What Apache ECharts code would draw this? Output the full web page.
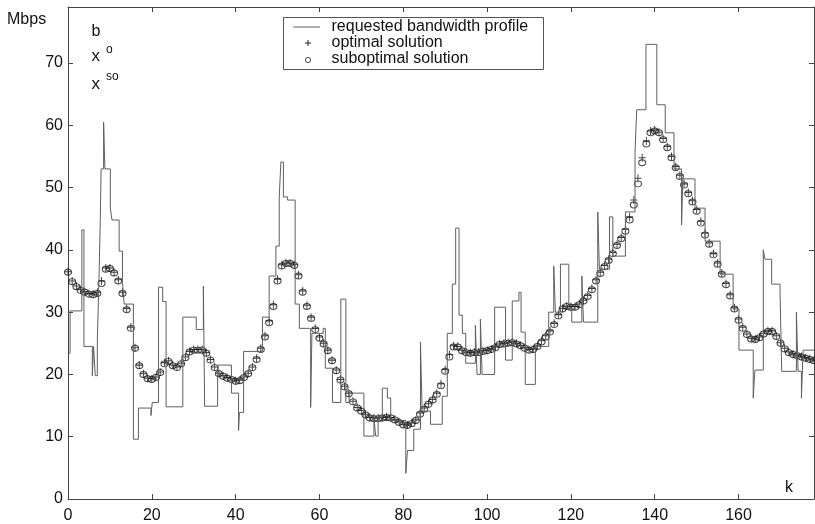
<!DOCTYPE html>
<html>
<head>
<meta charset="utf-8">
<script src="https://cdn.jsdelivr.net/npm/echarts@6/dist/echarts.min.js"></script>
<style>
  html, body { margin: 0; padding: 0; background: #fff; }
  #chart { width: 815px; height: 524px; }
</style>
</head>
<body>
<div id="chart"></div>
<script>
// ---- data ----
// requested bandwidth profile b: step start times (k) and the value held from that time
var bK = [0, 0.5, 3.3, 3.8, 5.8, 6.1, 6.5, 7.0, 7.4, 7.7,
  7.9, 8.5, 8.8, 10.1, 10.5, 12.2, 13.0, 13.4, 15.6, 16.8,
  19.8, 20.1, 21.6, 22.6, 23.4, 27.4, 30.6, 32.3, 32.6, 35.7,
  39.0, 40.7, 40.9, 41.9, 46.4, 48.0, 49.6, 50.4, 50.8, 51.4,
  52.4, 54.2, 55.2, 57.9, 58.2, 60.9, 61.4, 63.1, 65.1, 66.3,
  67.1, 70.6, 73.0, 73.4, 74.0, 75.0, 76.2, 77.0, 80.6, 81.0,
  82.5, 84.1, 84.5, 86.5, 89.3, 90.5, 91.7, 92.5, 93.3, 94.1,
  94.9, 97.2, 97.6, 98.4, 98.8, 101.8, 104.4, 106.0, 107.6, 108.1,
  109.1, 111.5, 114.7, 115.9, 116.3, 117.5, 119.5, 120.2, 122.6, 123.0,
  126.4, 126.8, 129.2, 130.0, 133.0, 135.3, 135.7, 137.9, 140.5, 142.5,
  144.6, 146.4, 146.7, 149.6, 152.0, 155.6, 158.7, 160.1, 163.5,
  163.9, 165.9, 166.3, 167.9, 169.9, 170.3, 173.8, 174.2, 175.0, 175.4,
  178.6];
var bVal = [23.4, 30.2, 43.2, 24.5, 19.8, 24.5, 19.8, 25.5, 35.5, 44.7,
  53.0, 60.5, 53.0, 46.7, 44.8, 39.8, 34.8, 31.3, 9.6, 14.6,
  13.4, 15.5, 34.0, 31.7, 14.8, 29.2, 27.2, 34.2, 14.9, 21.5,
  17.0, 11.0, 13.9, 23.7, 29.2, 35.8, 40.6, 48.5, 54.1, 48.5,
  48.0, 31.3, 27.4, 14.7, 26.6, 27.4, 21.0, 15.5, 32.1, 15.5,
  17.0, 10.1, 13.1, 10.1, 13.1, 17.8, 16.2, 12.6, 4.1, 7.8,
  11.2, 25.2, 14.1, 12.0, 16.5, 26.6, 34.5, 43.5, 29.5, 26.6,
  21.8, 27.9, 20.0, 28.9, 20.0, 30.8, 22.3, 31.8, 33.2, 26.8,
  18.4, 24.5, 30.0, 37.4, 30.0, 37.7, 30.3, 28.4, 35.8, 28.4,
  46.1, 36.9, 45.3, 39.0, 46.1, 55.7, 62.5, 73.0, 63.3, 58.8,
  53.0, 44.0, 51.4, 46.7, 41.4, 36.1, 30.5, 23.9, 16.2,
  20.7, 40.0, 38.5, 34.5, 33.2, 20.5, 30.0, 20.5, 16.2, 23.9,
  23.9];

// optimal solution x^o, one value per k = 0..178
var optimal = [36.5, 35.0, 34.2, 33.6, 33.3, 33.0, 32.9, 33.2, 35.0, 37.1,
  37.1, 36.4, 35.2, 33.2, 30.6, 27.6, 24.3, 21.5, 20.1, 19.4,
  19.3, 19.6, 20.4, 21.9, 22.2, 21.5, 21.2, 21.8, 22.8, 23.7,
  24.0, 24.0, 24.0, 23.5, 22.4, 21.2, 20.2, 19.8, 19.5, 19.3,
  19.0, 19.1, 19.6, 20.2, 21.2, 22.6, 24.2, 26.2, 28.6, 31.2,
  35.3, 37.6, 37.9, 37.9, 37.6, 36.0, 33.4, 31.1, 29.2, 27.4,
  26.0, 25.0, 23.9, 22.3, 20.7, 19.2, 18.1, 17.0, 15.7, 14.7,
  14.2, 13.6, 13.1, 13.0, 13.0, 13.1, 13.2, 13.1, 12.8, 12.4,
  12.0, 11.9, 12.2, 12.7, 13.8, 14.6, 15.3, 16.0, 17.0, 18.5,
  20.8, 23.2, 24.6, 24.5, 23.9, 23.6, 23.5, 23.6, 23.6, 23.8,
  23.9, 24.1, 24.4, 24.9, 25.0, 25.1, 25.2, 25.0, 24.7, 24.3,
  24.0, 24.1, 24.7, 25.4, 26.2, 27.0, 28.2, 29.6, 30.6, 31.0,
  30.9, 30.9, 31.3, 31.9, 32.7, 33.8, 35.2, 36.4, 37.5, 38.5,
  39.6, 40.9, 42.0, 43.3, 45.3, 48.0, 51.5, 54.8, 57.5, 59.1,
  59.3, 58.9, 57.9, 56.6, 55.0, 53.4, 52.0, 50.6, 49.2, 47.9,
  46.5, 44.6, 42.7, 41.1, 39.4, 37.9, 36.3, 34.6, 32.8, 30.7,
  28.9, 27.6, 26.5, 25.8, 25.7, 26.0, 26.6, 27.0, 27.0, 26.2,
  25.1, 24.2, 23.6, 23.3, 23.1, 22.9, 22.7, 22.5, 22.3];

// suboptimal solution x^so, one value per k = 0..178
var suboptimal = [36.4, 34.9, 34.1, 33.5, 33.2, 32.9, 32.8, 33.0, 34.6, 36.9,
  37.0, 36.3, 35.0, 33.0, 30.4, 27.4, 24.2, 21.4, 20.0, 19.3,
  19.2, 19.5, 20.3, 21.7, 22.1, 21.4, 21.1, 21.7, 22.7, 23.6,
  23.9, 23.9, 23.9, 23.4, 22.3, 21.1, 20.1, 19.7, 19.4, 19.2,
  18.9, 19.0, 19.5, 20.1, 21.1, 22.4, 24.0, 26.0, 28.3, 30.9,
  35.0, 37.4, 37.8, 37.8, 37.5, 35.8, 33.2, 30.9, 29.0, 27.2,
  25.8, 24.9, 23.8, 22.2, 20.6, 19.1, 18.0, 16.9, 15.6, 14.6,
  14.1, 13.5, 13.0, 12.9, 12.9, 13.0, 13.1, 13.0, 12.7, 12.3,
  11.9, 11.8, 12.1, 12.6, 13.6, 14.4, 15.2, 15.9, 16.8, 18.2,
  20.5, 22.8, 24.4, 24.4, 23.8, 23.5, 23.4, 23.5, 23.5, 23.7,
  23.8, 24.0, 24.3, 24.8, 24.9, 25.0, 25.1, 24.9, 24.6, 24.2,
  23.9, 24.0, 24.5, 25.2, 26.0, 26.8, 28.0, 29.4, 30.5, 30.9,
  30.8, 30.8, 31.2, 31.8, 32.5, 33.6, 35.0, 36.2, 37.3, 38.3,
  39.4, 40.7, 41.8, 43.0, 44.8, 47.2, 50.6, 54.0, 57.0, 58.8,
  59.1, 58.8, 57.7, 56.4, 54.8, 53.2, 51.8, 50.4, 49.0, 47.7,
  46.2, 44.3, 42.4, 40.9, 39.2, 37.7, 36.1, 34.4, 32.6, 30.5,
  28.7, 27.4, 26.4, 25.7, 25.6, 25.9, 26.5, 26.9, 26.9, 26.1,
  25.0, 24.1, 23.5, 23.2, 23.0, 22.8, 22.6, 22.4, 22.2];

var xTicks = { min: 0, max: 178, interval: 20 };
var yTicks = { min: 0, max: 79, interval: 10 };

var legendNames = ['requested bandwidth profile', 'optimal solution', 'suboptimal solution'];

// ---- chart ----
var FONT = '"Liberation Sans", Arial, Helvetica, sans-serif';
var AX = '#444';
var chart = echarts.init(document.getElementById('chart'), null, { renderer: 'canvas' });

var bData = bK.map(function (k, i) { return [k, bVal[i]]; });
var optData = optimal.map(function (v, k) { return [k, v]; });
var subData = suboptimal.map(function (v, k) { return [k, v]; });

function xAxisCfg(pos, showLabel) {
  return {
    type: 'value', position: pos, min: xTicks.min, max: xTicks.max, interval: xTicks.interval,
    axisLine: { show: true, onZero: false, lineStyle: { color: AX, width: 1 } },
    axisTick: { show: true, inside: true, length: 5, lineStyle: { color: AX, width: 1 } },
    axisLabel: { show: showLabel, showMaxLabel: false, margin: 9, fontSize: 16, color: '#111', fontFamily: FONT },
    splitLine: { show: false }
  };
}
function yAxisCfg(pos, showLabel) {
  return {
    type: 'value', position: pos, min: yTicks.min, max: yTicks.max, interval: yTicks.interval,
    axisLine: { show: true, onZero: false, lineStyle: { color: AX, width: 1 } },
    axisTick: { show: true, inside: true, length: 5, lineStyle: { color: AX, width: 1 } },
    axisLabel: { show: showLabel, showMaxLabel: false, margin: 5, fontSize: 16, color: '#111', fontFamily: FONT },
    splitLine: { show: false }
  };
}

var PLUS = 'path://M5,0 L5,10 M0,5 L10,5';

function txt(s, x, y, size, z) {
  return { type: 'text', z: z || 5, style: { text: s, x: x, y: y, font: size + 'px ' + FONT, fill: '#111', verticalAlign: 'middle' } };
}

var option = {
  animation: false,
  backgroundColor: '#fff',
  grid: { left: 68, right: 1, top: 7, bottom: 21 },
  xAxis: [xAxisCfg('bottom', true), xAxisCfg('top', false)],
  yAxis: [yAxisCfg('left', true), yAxisCfg('right', false)],
  series: [
    {
      name: legendNames[0], type: 'line', step: 'end', data: bData,
      symbol: 'none', clip: true,
      lineStyle: { color: '#5f5f5f', width: 1 }
    },
    {
      name: legendNames[2], type: 'scatter', data: subData,
      symbol: 'circle', symbolSize: [7, 6],
      itemStyle: { color: 'transparent', borderColor: '#222', borderWidth: 1 }
    },
    {
      name: legendNames[1], type: 'scatter', data: optData,
      symbol: PLUS, symbolSize: [7, 8],
      itemStyle: { color: 'transparent', borderColor: '#111', borderWidth: 1 }
    }
  ],
  graphic: [
    txt('Mbps', 7, 20, 16),
    txt('k', 785, 488, 16),
    txt('b', 91.5, 31.5, 16),
    txt('x', 91.5, 56.5, 17),
    txt('o', 106, 49.5, 12),
    txt('x', 91.5, 84.5, 17),
    txt('so', 106, 77, 12),
    // legend box
    { type: 'rect', z: 10, shape: { x: 283.5, y: 17.5, width: 260, height: 52 }, style: { fill: '#fff', stroke: '#555', lineWidth: 1 } },
    { type: 'line', z: 11, shape: { x1: 293, y1: 27, x2: 320, y2: 27 }, style: { stroke: '#5f5f5f', lineWidth: 1 } },
    { type: 'line', z: 11, shape: { x1: 308, y1: 40, x2: 308, y2: 46 }, style: { stroke: '#222', lineWidth: 1 } },
    { type: 'line', z: 11, shape: { x1: 305, y1: 43, x2: 311, y2: 43 }, style: { stroke: '#222', lineWidth: 1 } },
    { type: 'circle', z: 11, shape: { cx: 308, cy: 60, r: 2.6 }, style: { fill: 'none', stroke: '#333', lineWidth: 0.9 } },
    txt(legendNames[0], 331.5, 26.7, 16, 11),
    txt(legendNames[1], 331.5, 42.8, 16, 11),
    txt(legendNames[2], 331.5, 59, 16, 11)
  ]
};
chart.setOption(option);
</script>
</body>
</html>
